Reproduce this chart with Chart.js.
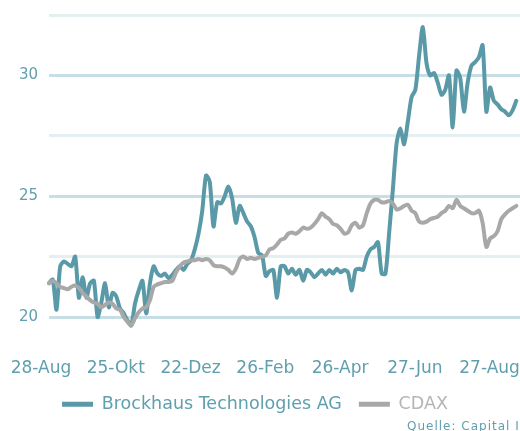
<!DOCTYPE html>
<html><head><meta charset="utf-8">
<script src="https://cdn.jsdelivr.net/npm/chart.js@4"></script>
<style>
html,body{margin:0;padding:0;background:#fff;overflow:hidden;width:520px;height:431px}
#wrap{position:absolute;left:-10px;top:0;width:530px;height:431px}
</style>
</head><body><div id="wrap"><canvas id="c"></canvas></div>
<script>
const tickLabels = ['28-Aug','25-Okt','22-Dez','26-Feb','26-Apr','27-Jun','27-Aug'];
const tickEvery = 20;
const seriesNames = ['Brockhaus Technologies AG','CDAX'];
const brockhaus = [21.4,21.55,20.3,22.1,22.3,22.2,22.1,22.5,20.8,21.65,
  20.8,21.4,21.5,20.0,20.6,21.4,20.4,21.0,20.85,20.35,
  20.15,19.85,19.65,20.55,21.1,21.5,20.15,21.4,22.1,21.8,
  21.7,21.8,21.6,21.75,21.95,22.1,21.95,22.2,22.35,22.8,
  23.45,24.4,25.85,25.6,23.75,24.75,24.7,25.0,25.4,24.9,
  23.9,24.6,24.3,23.95,23.75,23.3,22.65,22.55,21.7,21.9,
  21.95,20.8,22.1,22.1,21.8,22.0,21.75,21.95,21.5,21.95,
  21.85,21.65,21.8,21.95,21.75,21.95,21.8,22.0,21.85,21.95,
  21.85,21.1,21.95,22.0,21.95,22.5,22.8,22.9,23.1,21.8,
  21.8,23.5,25.3,27.2,27.8,27.15,28.1,29.1,29.4,30.8,
  32.0,30.5,30.0,30.1,29.7,29.2,29.4,30.0,27.85,30.2,
  29.9,28.5,29.7,30.4,30.55,30.75,31.25,28.5,29.5,28.95,
  28.8,28.6,28.5,28.35,28.55,28.95];
const cdax = [21.4,21.5,21.4,21.25,21.2,21.15,21.25,21.3,21.2,21.0,
  20.85,20.7,20.6,20.55,20.4,20.5,20.6,20.55,20.35,20.3,
  20.0,19.8,19.65,19.95,20.2,20.35,20.4,20.7,21.25,21.35,
  21.4,21.45,21.45,21.5,21.85,22.1,22.25,22.3,22.35,22.35,
  22.4,22.35,22.4,22.35,22.15,22.1,22.1,22.05,21.95,21.8,
  22.0,22.4,22.5,22.4,22.45,22.4,22.45,22.5,22.55,22.8,
  22.85,23.0,23.2,23.25,23.45,23.5,23.45,23.55,23.7,23.65,
  23.7,23.85,24.05,24.3,24.15,24.05,23.85,23.8,23.65,23.45,
  23.5,23.8,23.9,23.7,23.8,24.3,24.7,24.85,24.85,24.75,
  24.75,24.8,24.7,24.45,24.5,24.6,24.65,24.4,24.3,23.95,
  23.9,23.95,24.05,24.1,24.15,24.3,24.4,24.6,24.5,24.85,
  24.6,24.5,24.4,24.3,24.3,24.4,23.9,22.9,23.25,23.35,
  23.55,24.05,24.25,24.4,24.5,24.6];
const yTicks = [20,22.5,25,27.5,30,32.5];
const sourceText = 'Quelle: Capital IQ';

const TEAL = '#5a9aa8', GRAY = '#a8a8a8';
const TEXT_TEAL = '#5f9fae', TEXT_GRAY = '#b5b5b5';
const FONT = "'DejaVu Sans', sans-serif";

const labels = Array.from({length: brockhaus.length + 1}, (_, i) =>
  (i % tickEvery === 0 && tickLabels[i / tickEvery]) ? tickLabels[i / tickEvery] : '');

const sourcePlugin = {
  id: 'source',
  afterDraw(chart) {
    const ctx = chart.ctx;
    ctx.save();
    ctx.font = "12px " + FONT;
    try { ctx.letterSpacing = '1px'; } catch (e) {}
    ctx.fillStyle = TEXT_TEAL;
    ctx.textBaseline = 'alphabetic';
    ctx.textAlign = 'left';
    ctx.fillText(sourceText, 417, 430);
    ctx.restore();
  }
};

new Chart(document.getElementById('c'), {
  type: 'line',
  data: {
    labels,
    datasets: [
      { label: seriesNames[0], data: brockhaus, borderColor: TEAL, backgroundColor: TEAL,
        borderWidth: 4, pointRadius: 0, tension: 0.25, order: 1, borderJoinStyle: 'round', borderCapStyle: 'round' },
      { label: seriesNames[1], data: cdax, borderColor: GRAY, backgroundColor: GRAY,
        borderWidth: 4, pointRadius: 0, tension: 0.25, order: 0, borderJoinStyle: 'round', borderCapStyle: 'round' }
    ]
  },
  options: {
    responsive: true,
    maintainAspectRatio: false,
    animation: false,
    devicePixelRatio: 1,
    layout: { padding: { top: 15, left: 0, right: 0, bottom: 8 } },
    plugins: {
      tooltip: { enabled: false },
      legend: {
        position: 'bottom',
        labels: {
          boxWidth: 31, boxHeight: 5, padding: 17,
          font: { family: FONT, size: 17.5 },
          color: TEXT_TEAL,
          sort: (a, b) => a.datasetIndex - b.datasetIndex,
          generateLabels(chart) {
            const items = Chart.defaults.plugins.legend.labels.generateLabels(chart);
            items.forEach(it => {
              it.fontColor = it.datasetIndex === 0 ? TEXT_TEAL : TEXT_GRAY;
              it.lineWidth = 0;
              it.strokeStyle = 'rgba(0,0,0,0)';
            });
            return items;
          }
        }
      }
    },
    scales: {
      x: {
        type: 'category',
        offset: false,
        grid: { display: false, drawTicks: false },
        border: { display: false },
        ticks: {
          autoSkip: false, maxRotation: 0, minRotation: 0,
          labelOffset: -8, padding: 0,
          font: { family: FONT, size: 17 },
          color: TEXT_TEAL
        }
      },
      y: {
        min: 18.3, max: 32.5,
        afterFit(s) { s.width = 59; s.paddingTop = 0; s.paddingBottom = 0; },
        afterBuildTicks(s) { s.ticks = yTicks.map(v => ({ value: v })); },
        border: { display: false },
        grid: {
          drawTicks: false,
          lineWidth: 3,
          color: ctx => (ctx.tick && ctx.tick.value % 5 === 0) ? '#c5dfe4' : '#e4eff2'
        },
        ticks: {
          padding: 11,
          font: { family: FONT, size: 15 },
          color: TEXT_TEAL,
          callback: v => (v % 5 === 0 ? String(v) : '')
        }
      }
    }
  },
  plugins: [sourcePlugin]
});
</script>
</body></html>
